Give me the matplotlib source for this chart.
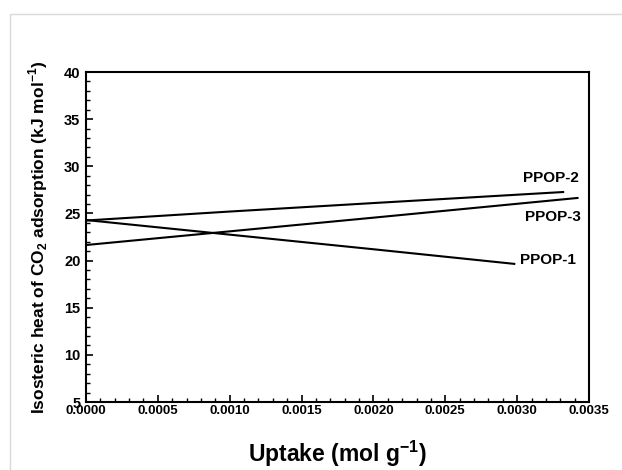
import numpy as np
from matplotlib import pyplot as plt
from matplotlib.ticker import MultipleLocator, FormatStrFormatter
from matplotlib.patches import Rectangle

plt.rcParams['font.family'] = ['Liberation Sans', 'DejaVu Sans']
plt.rcParams['font.weight'] = 'bold'
plt.rcParams['mathtext.fontset'] = 'custom'
plt.rcParams['mathtext.rm'] = 'Liberation Sans:bold'
plt.rcParams['mathtext.bf'] = 'Liberation Sans:bold'

# uptake (mol/g) vs isosteric heat (kJ/mol)
ppop1_x = [0.0, 0.0010, 0.0020, 0.00298]
ppop1_y = [24.3, 22.75, 21.2, 19.65]
ppop2_x = [0.0, 0.0010, 0.0020, 0.00332]
ppop2_y = [24.25, 25.2, 26.1, 27.27]
ppop3_x = [0.0, 0.0010, 0.0020, 0.00342]
ppop3_y = [21.65, 23.1, 24.55, 26.64]

labels = ["PPOP-1", "PPOP-2", "PPOP-3"]
label_x = [0.003215, 0.003236, 0.00325]
label_y = [20.06, 28.76, 24.62]

fig = plt.figure(figsize=(6.22, 4.70), dpi=100)
fig.patches.append(Rectangle((10/622, -0.1), 1.2, 1 - 14/470 + 0.1,
                             transform=fig.transFigure, fill=False,
                             edgecolor='#d9d9d9', linewidth=1))
ax = fig.add_axes([86/622, 1 - 402/470, 503/622, 330/470])

for xs, ys in [(ppop1_x, ppop1_y), (ppop2_x, ppop2_y), (ppop3_x, ppop3_y)]:
    ax.plot(xs, ys, color='black', linewidth=1.5)

for t, x, y in zip(labels, label_x, label_y):
    ax.text(x, y, t, ha='center', va='center', fontsize=11, fontweight='bold')

ax.set_xlim(0, 0.0035)
ax.set_ylim(5, 40)
ax.xaxis.set_major_locator(MultipleLocator(0.0005))
ax.xaxis.set_minor_locator(MultipleLocator(0.0001))
ax.yaxis.set_major_locator(MultipleLocator(5))
ax.yaxis.set_minor_locator(MultipleLocator(1))
ax.xaxis.set_major_formatter(FormatStrFormatter('%.4f'))
ax.tick_params(which='both', direction='in', top=False, right=False, pad=2)
ax.tick_params(axis='x', labelsize=9.5)
ax.tick_params(axis='y', labelsize=10.5, pad=4)
ax.tick_params(which='major', length=5, width=1.2)
ax.tick_params(which='minor', length=3, width=1)
for s in ax.spines.values():
    s.set_linewidth(1.5)

ax.set_xlabel('Uptake (mol g$^{-1}$)', fontsize=16.5, fontweight='bold',
              labelpad=16)
ax.set_ylabel('Isosteric heat of CO$_{2}$ adsorption (kJ mol$^{-1}$)',
              fontsize=12.5, fontweight='bold', labelpad=10)

fig.savefig('out.png', dpi=100)
